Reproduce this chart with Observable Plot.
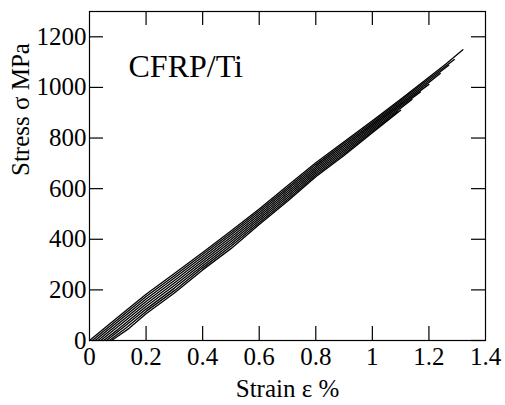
<!DOCTYPE html>
<html><head><meta charset="utf-8">
<script src="https://cdn.jsdelivr.net/npm/d3@7"></script>
<script src="https://cdn.jsdelivr.net/npm/@observablehq/plot@0.6"></script>
<style>
body{margin:0;padding:0;background:#fff;}
</style></head>
<body><div id="chart"></div>
<script>
// Stress–strain curves (strain %, stress MPa)
const curve1 = [[0,0],[0.1,92],[0.2,183],[0.3,265],[0.4,348],[0.5,433],[0.6,520],[0.7,611],[0.8,702],[0.9,785],[1.0,868],[1.1,953],[1.2,1040],[1.26,1093],[1.32,1149]];
const curve2 = [[0.01,0],[0.1,83],[0.2,174],[0.3,256],[0.4,340],[0.5,425],[0.6,513],[0.7,604],[0.8,695],[0.9,779],[1.0,862],[1.1,948],[1.2,1034],[1.29,1110]];
const curve3 = [[0.02,0],[0.1,74],[0.2,164],[0.3,247],[0.4,331],[0.5,417],[0.6,505],[0.7,597],[0.8,688],[0.9,772],[1.0,856],[1.1,942],[1.2,1027],[1.27,1088]];
const curve4 = [[0.03,0],[0.1,64],[0.2,154],[0.3,237],[0.4,322],[0.5,408],[0.6,497],[0.7,589],[0.8,681],[0.9,765],[1.0,850],[1.1,936],[1.2,1020],[1.24,1055]];
const curve5 = [[0.04,0],[0.1,54],[0.2,144],[0.3,227],[0.4,313],[0.5,399],[0.6,489],[0.7,581],[0.8,674],[0.9,758],[1.0,844],[1.1,930],[1.2,1012]];
const curve6 = [[0.05,0],[0.1,43],[0.2,134],[0.3,217],[0.4,304],[0.5,390],[0.6,481],[0.7,573],[0.8,667],[0.9,751],[1.0,838],[1.1,924],[1.17,982]];
const curve7 = [[0.06,0],[0.12,52],[0.2,124],[0.3,207],[0.4,295],[0.5,381],[0.6,473],[0.7,565],[0.8,660],[0.9,744],[1.0,832],[1.1,918],[1.14,952]];
const curve8 = [[0.07,0],[0.13,50],[0.2,115],[0.3,197],[0.4,287],[0.5,372],[0.6,465],[0.7,557],[0.8,653],[0.9,737],[1.0,826],[1.09,904]];
const curve9 = [[0.078,0],[0.14,48],[0.2,106],[0.3,188],[0.4,279],[0.5,363],[0.6,458],[0.7,550],[0.8,647],[0.9,731],[1.0,821],[1.1,910]];

const xTicks = [0, 0.2, 0.4, 0.6, 0.8, 1, 1.2, 1.4];
const yTicks = [0, 200, 400, 600, 800, 1000, 1200];
const xTickLabels = ["0", "0.2", "0.4", "0.6", "0.8", "1", "1.2", "1.4"];
const xLabel = "Strain ε %";
const yLabel = "Stress σ MPa";
const panelLabel = "CFRP/Ti";

const xDomain = [0, 1.4];
const yDomain = [0, 1300];

const curves = [curve1, curve2, curve3, curve4, curve5, curve6, curve7, curve8, curve9];
const data = curves.flatMap((c, i) => c.map(([x, y]) => ({x, y, run: i})));

const W = 505, H = 405;
const mL = 89, mR = 20, mT = 11, mB = 65;
const tickPx = 14;
const xPerPx = (xDomain[1] - xDomain[0]) / (W - mL - mR);
const yPerPx = (yDomain[1] - yDomain[0]) / (H - mT - mB);
const tx = tickPx * xPerPx, ty = tickPx * yPerPx;

const ff = "Liberation Serif";

const chart = Plot.plot({
  width: W, height: H,
  marginLeft: mL, marginRight: mR, marginTop: mT, marginBottom: mB,
  x: {domain: xDomain, axis: null},
  y: {domain: yDomain, axis: null},
  marks: [
    Plot.ruleX(xTicks.slice(1, -1), {y1: yDomain[0], y2: yDomain[0] + ty, stroke: "#000", strokeWidth: 1.2}),
    Plot.ruleX(xTicks.slice(1, -1), {y1: yDomain[1], y2: yDomain[1] - ty, stroke: "#000", strokeWidth: 1.2}),
    Plot.ruleY(yTicks.slice(1), {x1: xDomain[0], x2: xDomain[0] + tx, stroke: "#000", strokeWidth: 1.2}),
    Plot.ruleY(yTicks, {x1: xDomain[1], x2: xDomain[1] - tx, stroke: "#000", strokeWidth: 1.2}),
    Plot.text(xTicks, {x: d => d, frameAnchor: "bottom", text: (d, i) => xTickLabels[i], lineAnchor: "top", dy: 7, fontSize: 25, fontFamily: ff, fill: "#000"}),
    Plot.text(yTicks, {y: d => d, frameAnchor: "left", text: d => String(d), textAnchor: "end", lineAnchor: "middle", dx: -3, fontSize: 25, fontFamily: ff, fill: "#000"}),
    Plot.line(data, {x: "x", y: "y", z: "run", stroke: "#000", strokeWidth: 1.3}),
    Plot.frame({stroke: "#000", strokeWidth: 1.2}),
    Plot.text([xLabel], {frameAnchor: "bottom", lineAnchor: "middle", dy: 48, fontSize: 25, fontFamily: ff, fill: "#000"}),
    Plot.text([yLabel], {frameAnchor: "left", rotate: -90, dx: -69, lineAnchor: "middle", fontSize: 25, fontFamily: ff, fill: "#000"}),
    Plot.text([panelLabel], {frameAnchor: "top-left", textAnchor: "start", lineAnchor: "top", dx: 39, dy: 43, fontSize: 32, fontFamily: ff, fill: "#000"})
  ]
});
d3.select(chart).attr("font-family", ff);
d3.select(chart).selectAll("text").each(function() {
  const size = this.parentNode.getAttribute("font-size") || "25";
  this.setAttribute("font-family", ff);
  this.style.setProperty("font-family", "'Liberation Serif', serif", "important");
  this.style.setProperty("font-size", (String(size).endsWith("px") ? size : size + "px"), "important");
});
document.getElementById("chart").appendChild(chart);
</script>
</body></html>
